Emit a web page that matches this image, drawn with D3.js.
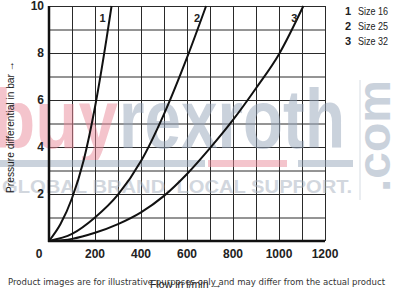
<!DOCTYPE html>
<html>
<head>
<meta charset="utf-8">
<script src="https://cdn.jsdelivr.net/npm/d3@7"></script>
<style>
  body { margin: 0; background: #fff; }
  svg { display: block; font-family: "Liberation Sans", Arial, sans-serif; }
</style>
</head>
<body>
<svg id="chart" width="394" height="290"></svg>
<script>
// flow in l/min and pressure differential in bar
const size16Flow = [0, 50, 100, 150, 200, 250, 272];
const size16Dp   = [0, 0.72, 1.82, 3.4, 5.7, 8.6, 10];
const size25Flow = [0, 100, 200, 300, 400, 500, 600, 683];
const size25Dp   = [0, 0.3, 1.0, 1.97, 3.4, 5.4, 7.8, 10];
const size32Flow = [0, 100, 200, 300, 400, 500, 600, 700, 800, 900, 1000, 1106];
const size32Dp   = [0, 0.09, 0.35, 0.72, 1.22, 1.92, 2.85, 3.95, 5.15, 6.5, 7.95, 10];

const seriesNames = [`1`, `2`, `3`];
const legendLabels = [`Size 16`, `Size 25`, `Size 32`];
const xTicks = [200, 400, 600, 800, 1000, 1200];
const yTicks = [2, 4, 6, 8, 10];

const svg = d3.select(`#chart`);
const x = d3.scaleLinear().domain([0, 1200]).range([49, 325]);
const y = d3.scaleLinear().domain([0, 10]).range([241, 6]);

// grid
const grid = svg.append(`g`);
grid.append(`g`)
  .attr(`transform`, `translate(0,${y(0)})`)
  .call(d3.axisBottom(x).tickValues(d3.range(100, 1201, 100)).tickSize(-(y(0) - y(10))).tickFormat(``))
  .call(g => g.select(`.domain`).remove());
grid.append(`g`)
  .attr(`transform`, `translate(${x(0)},0)`)
  .call(d3.axisLeft(y).tickValues(d3.range(1, 11, 1)).tickSize(-(x(1200) - x(0))).tickFormat(``))
  .call(g => g.select(`.domain`).remove());
grid.selectAll(`line`).attr(`stroke`, `#2a2a2a`).attr(`stroke-width`, 1);

// watermark
const wm = svg.append(`g`).attr(`opacity`, 0.5);
wm.append(`text`).attr(`x`, -8).attr(`y`, 148)
  .attr(`font-size`, 84).attr(`font-weight`, `bold`).attr(`fill`, `#eb8a9a`)
  .attr(`textLength`, 126).attr(`lengthAdjust`, `spacingAndGlyphs`).text(`buy`);
wm.append(`text`).attr(`x`, 119).attr(`y`, 148)
  .attr(`font-size`, 84).attr(`font-weight`, `bold`).attr(`fill`, `#97a6bb`)
  .attr(`textLength`, 226).attr(`lengthAdjust`, `spacingAndGlyphs`).text(`rexroth`);
wm.append(`text`).attr(`transform`, `translate(390,192) rotate(-90)`)
  .attr(`font-size`, 46).attr(`font-weight`, `bold`).attr(`fill`, `#97a6bb`)
  .attr(`textLength`, 112).attr(`lengthAdjust`, `spacingAndGlyphs`).text(`.com`);
wm.append(`line`).attr(`x1`, 360).attr(`x2`, 360).attr(`y1`, 80).attr(`y2`, 200)
  .attr(`stroke`, `#b0bccb`).attr(`stroke-width`, 1);
wm.append(`rect`).attr(`x`, 0).attr(`y`, 160).attr(`width`, 205).attr(`height`, 7).attr(`fill`, `#97a6bb`);
wm.append(`rect`).attr(`x`, 208).attr(`y`, 160).attr(`width`, 79).attr(`height`, 7).attr(`fill`, `#eb8a9a`);
wm.append(`rect`).attr(`x`, 298).attr(`y`, 160).attr(`width`, 55).attr(`height`, 7).attr(`fill`, `#97a6bb`);
wm.append(`text`).attr(`x`, 2).attr(`y`, 193)
  .attr(`font-size`, 18).attr(`font-weight`, `bold`).attr(`fill`, `#a6b0be`)
  .attr(`textLength`, 350).attr(`lengthAdjust`, `spacingAndGlyphs`)
  .text(`GLOBAL BRAND. LOCAL SUPPORT.`);

// axis lines
svg.append(`line`).attr(`x1`, x(0)).attr(`x2`, x(0)).attr(`y1`, y(10)).attr(`y2`, y(0) + 1)
  .attr(`stroke`, `#111`).attr(`stroke-width`, 2.5);
svg.append(`line`).attr(`x1`, x(0) - 1).attr(`x2`, x(1200)).attr(`y1`, y(0)).attr(`y2`, y(0))
  .attr(`stroke`, `#111`).attr(`stroke-width`, 2.5);

// curves
const curves = [
  d3.zip(size16Flow, size16Dp),
  d3.zip(size25Flow, size25Dp),
  d3.zip(size32Flow, size32Dp)
];
const line = d3.line().x(d => x(d[0])).y(d => y(d[1])).curve(d3.curveMonotoneX);
svg.append(`g`).selectAll(`path`).data(curves).enter().append(`path`)
  .attr(`d`, line).attr(`fill`, `none`).attr(`stroke`, `#111`).attr(`stroke-width`, 2);

// curve numbers near the top end
svg.append(`g`).selectAll(`text`).data(curves).enter().append(`text`)
  .attr(`x`, d => x(d[d.length - 1][0]) - 6)
  .attr(`y`, 22).attr(`text-anchor`, `end`)
  .attr(`font-size`, 11).attr(`font-weight`, `bold`).attr(`fill`, `#222`)
  .text((d, i) => seriesNames[i]);

// tick labels
svg.append(`g`).selectAll(`text`).data(xTicks).enter().append(`text`)
  .attr(`x`, d => x(d)).attr(`y`, 258).attr(`text-anchor`, `middle`)
  .attr(`font-size`, 12).attr(`font-weight`, `bold`).attr(`fill`, `#222`)
  .text(d => d);
svg.append(`text`).attr(`x`, 39).attr(`y`, 258).attr(`text-anchor`, `middle`)
  .attr(`font-size`, 12).attr(`font-weight`, `bold`).attr(`fill`, `#222`).text(`0`);
svg.append(`g`).selectAll(`text`).data(yTicks).enter().append(`text`)
  .attr(`x`, 44).attr(`y`, d => y(d)).attr(`dy`, `0.35em`).attr(`text-anchor`, `end`)
  .attr(`font-size`, 12).attr(`font-weight`, `bold`).attr(`fill`, `#222`)
  .text(d => d);

// axis titles
svg.append(`text`).attr(`transform`, `translate(14,127) rotate(-90)`)
  .attr(`text-anchor`, `middle`).attr(`font-size`, 11).attr(`fill`, `#222`)
  .attr(`textLength`, 132).attr(`lengthAdjust`, `spacingAndGlyphs`)
  .text(`Pressure differential in bar →`);
svg.append(`text`).attr(`x`, 186).attr(`y`, 288).attr(`text-anchor`, `middle`)
  .attr(`font-size`, 11).attr(`fill`, `#222`)
  .attr(`textLength`, 72).attr(`lengthAdjust`, `spacingAndGlyphs`)
  .text(`Flow in l/min →`);

// legend
const legend = svg.append(`g`).selectAll(`g`).data(legendLabels).enter().append(`g`)
  .attr(`transform`, (d, i) => `translate(345,${15 + i * 15})`);
legend.append(`text`).attr(`font-size`, 11).attr(`font-weight`, `bold`).attr(`fill`, `#222`)
  .text((d, i) => seriesNames[i]);
legend.append(`text`).attr(`x`, 13).attr(`font-size`, 11).attr(`fill`, `#222`)
  .attr(`textLength`, 30).attr(`lengthAdjust`, `spacingAndGlyphs`)
  .text(d => d);

// footer
svg.append(`text`).attr(`x`, 8).attr(`y`, 285).attr(`font-size`, 9)
  .attr(`font-family`, `"DejaVu Sans", sans-serif`).attr(`fill`, `#333`)
  .attr(`textLength`, 377).attr(`lengthAdjust`, `spacingAndGlyphs`)
  .text(`Product images are for illustrative purposes only and may differ from the actual product`);
</script>
</body>
</html>
